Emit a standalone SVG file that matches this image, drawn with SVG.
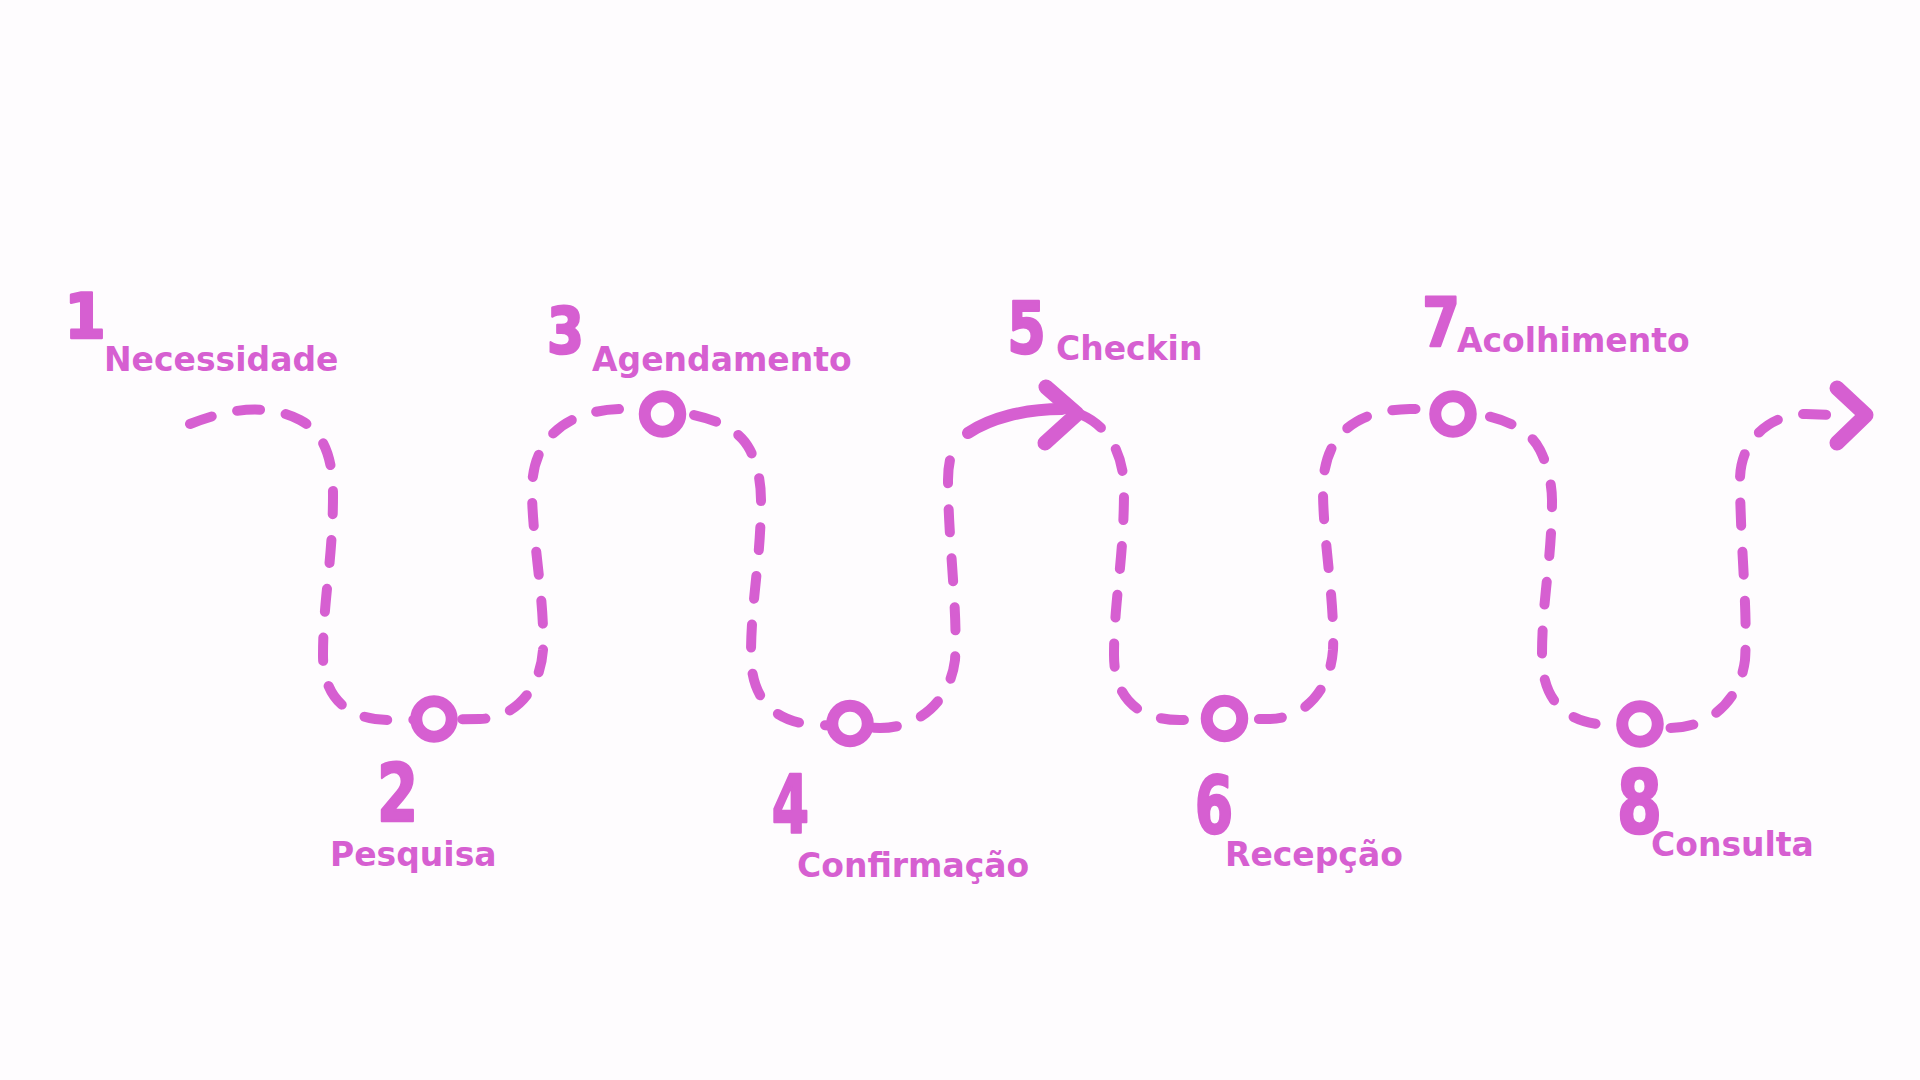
<svg xmlns="http://www.w3.org/2000/svg" width="1920" height="1080" viewBox="0 0 1920 1080">
<style>
.num{font-family:"DejaVu Sans","Liberation Sans",sans-serif;font-weight:bold;fill:#d65fd1;stroke:#d65fd1;stroke-width:2.5;stroke-linejoin:round;text-anchor:middle}
.lbl{font-family:"DejaVu Sans","Liberation Sans",sans-serif;font-weight:bold;font-size:33px;fill:#d65fd1}
.dash{fill:none;stroke:#d65fd1;stroke-width:10;stroke-linecap:round;stroke-linejoin:round;stroke-dasharray:23 26}
.solid{fill:none;stroke:#d65fd1;stroke-width:12;stroke-linecap:round;stroke-linejoin:round}
.head{fill:none;stroke:#d65fd1;stroke-width:15;stroke-linecap:round;stroke-linejoin:round}
.ring{fill:#fefcfe;stroke:#d65fd1;stroke-width:12}
</style>
<rect width="1920" height="1080" fill="#fefcfe"/>
<g id="connectors">
<path class="dash" d="M190,424 C225,410 265,402 300,420 C325,433 333,460 333,495 C333,560 323,600 323,655 C323,700 350,720 390,720 L480,719 C515,718 540,690 543,650 C545,600 532,540 532,490 C532,440 565,409 625,409 C690,409 735,420 750,450 C760,470 761,490 761,500 C761,560 751,600 751,655 C751,700 775,724 820,725 L880,728 C920,728 950,700 955,660 C958,610 948,540 948,480 C948,462 952,448 960,438"/>
<path class="solid" d="M968,433 C990,418 1025,409 1062,409"/>
<path class="dash" d="M1082,415 C1105,425 1124,450 1124,490 C1124,560 1114,600 1114,655 C1114,700 1140,720 1180,720 L1270,719 C1305,718 1330,690 1333,650 C1335,600 1323,540 1323,490 C1323,440 1350,410 1410,409 C1480,409 1525,420 1540,450 C1550,470 1552,490 1552,500 C1552,560 1542,600 1542,655 C1542,700 1565,724 1610,725 L1670,728 C1710,728 1740,700 1745,660 C1748,610 1740,540 1740,480 C1740,440 1770,414 1806,414 L1832,415"/>
<polyline class="head" points="1046,387 1077,414 1045,443"/>
<polyline class="head" points="1837,388 1866,415 1837,443"/>
</g>
<g id="node-1">
<text class="num" transform="translate(85,338) scale(0.95,1)" font-size="63">1</text>
<text class="lbl" x="104" y="371">Necessidade</text>
</g>
<g id="node-2">
<circle class="ring" cx="434" cy="719" r="17.75"/>
<text class="num" transform="translate(397.5,821) scale(0.74,1)" font-size="80">2</text>
<text class="lbl" x="330" y="866">Pesquisa</text>
</g>
<g id="node-3">
<circle class="ring" cx="662.5" cy="414" r="17.75"/>
<text class="num" transform="translate(565.5,352.6) scale(0.83,1)" font-size="64">3</text>
<text class="lbl" x="592" y="371">Agendamento</text>
</g>
<g id="node-4">
<circle class="ring" cx="850" cy="723.5" r="17.75"/>
<text class="num" transform="translate(790.5,832.6) scale(0.67,1)" font-size="80">4</text>
<text class="lbl" x="797" y="877">Confirmação</text>
</g>
<g id="node-5">
<text class="num" transform="translate(1026.5,352.6) scale(0.78,1)" font-size="71">5</text>
<text class="lbl" x="1056" y="360">Checkin</text>
</g>
<g id="node-6">
<circle class="ring" cx="1224.5" cy="718.5" r="17.75"/>
<text class="num" transform="translate(1214,832.6) scale(0.7,1)" font-size="79">6</text>
<text class="lbl" x="1225" y="865.5">Recepção</text>
</g>
<g id="node-7">
<circle class="ring" cx="1453" cy="414" r="17.75"/>
<text class="num" transform="translate(1441,346.4) scale(0.79,1)" font-size="68.5">7</text>
<text class="lbl" x="1457" y="351.6">Acolhimento</text>
</g>
<g id="node-8">
<circle class="ring" cx="1640" cy="724" r="17.75"/>
<text class="num" transform="translate(1639.5,833) scale(0.75,1)" font-size="87">8</text>
<text class="lbl" x="1651" y="856">Consulta</text>
</g>
</svg>
